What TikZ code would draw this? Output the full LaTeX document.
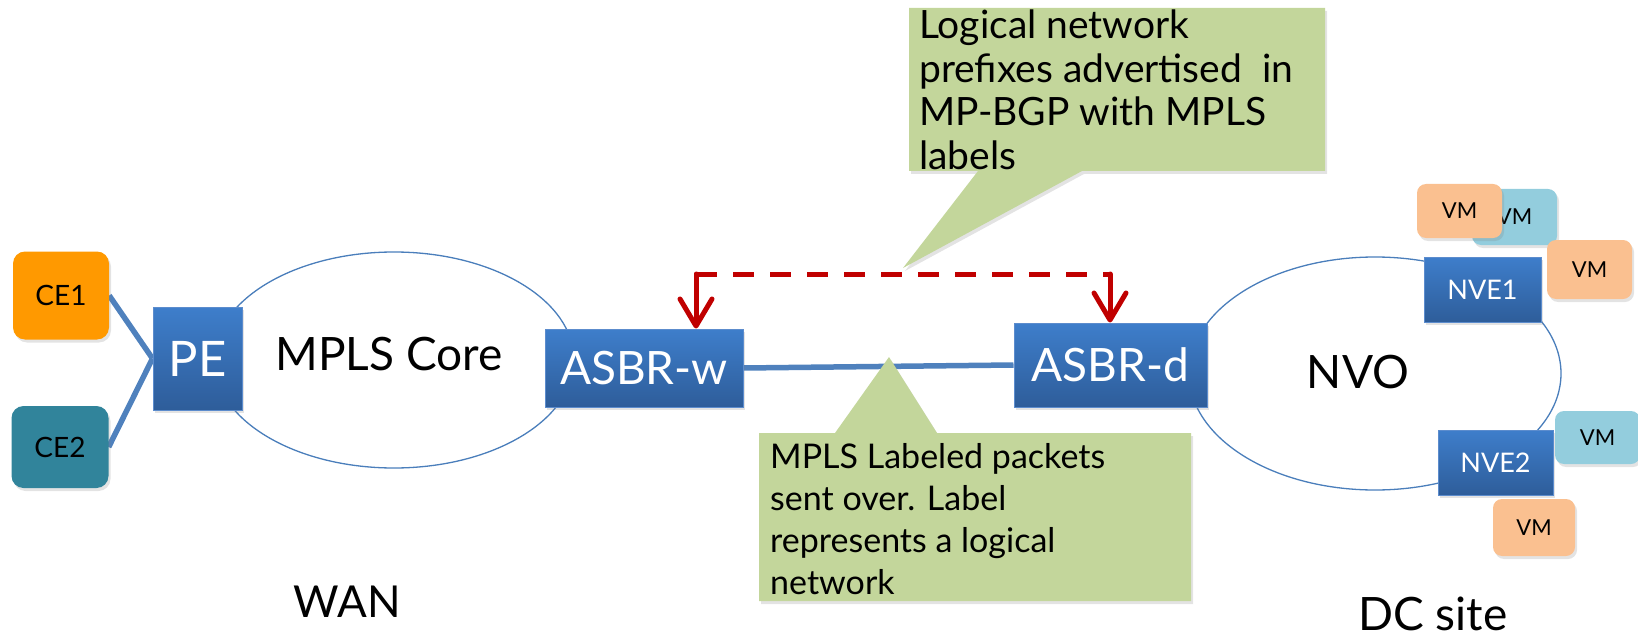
\documentclass[tikz,border=0pt]{standalone}
\usepackage{fontspec}
\setmainfont{Lato}
\usetikzlibrary{arrows.meta,shadows,shapes.geometric}

\definecolor{ceorange}{RGB}{255,153,0}
\definecolor{ceteal}{RGB}{49,132,155}
\definecolor{boxtop}{RGB}{62,126,203}
\definecolor{boxbot}{RGB}{46,93,154}
\definecolor{boxedge}{RGB}{92,140,205}
\definecolor{linkblue}{RGB}{79,129,189}
\definecolor{ringblue}{RGB}{74,126,187}
\definecolor{notegreen}{RGB}{195,214,155}
\definecolor{vmpeach}{RGB}{250,192,144}
\definecolor{vmblue}{RGB}{147,205,221}
\definecolor{signalred}{RGB}{192,0,0}

\pgfdeclarelayer{bg}
\pgfsetlayers{bg,main}

\tikzset{
  fnt/.style={font=\fontsize{#1}{#1}\selectfont},
  softshadow/.style={drop shadow={opacity=0.22,shadow xshift=2pt,shadow yshift=-3pt}},
  router/.style={draw=boxedge, line width=1pt, top color=boxtop, bottom color=boxbot,
    text=white, softshadow, inner sep=0pt},
  site/.style={rounded corners=12pt, text=black, inner sep=0pt, softshadow},
  vm/.style={rounded corners=9pt, inner sep=0pt, softshadow, fnt=22},
  ring/.style={draw=ringblue, line width=1.3pt, ellipse, inner sep=0pt},
  link/.style={draw=linkblue, line width=5.5pt},
  signal/.style={draw=signalred, line width=5pt},
  barb/.style={signal, line cap=round,
    -{Straight Barb[length=27pt,width=32pt,line cap=round,line join=round]}},
  note/.style={fill=notegreen, softshadow},
  notetext/.style={inner sep=0pt, align=left, anchor=north west},
  caption/.style={fnt=46, anchor=base, inner sep=0pt},
}

\begin{document}
\begin{tikzpicture}[x=1pt,y=-1pt]
  \useasboundingbox (0,0) rectangle (1638,639);

  % WAN side
  \node[ring, minimum width=360pt, minimum height=216pt] (core) at (394,360) {};
  \node[caption] (corelbl) at (389,370) {MPLS Core};
  \node[site, fill=ceorange, minimum width=96pt, minimum height=88pt, fnt=28] (ce1) at (61,295.5) {CE1};
  \node[site, fill=ceteal, minimum width=97pt, minimum height=82pt, fnt=28] (ce2) at (60,447) {CE2};
  \node[router, minimum width=89pt, minimum height=103pt, fnt=49] (pe) at (197.5,358.5) {PE};
  \node[router, minimum width=198pt, minimum height=78pt, fnt=46] (asbrw) at (644,368) {ASBR-w};

  % data centre side
  \node[ring, minimum width=372pt, minimum height=233pt] (nvo) at (1375,373.5) {};
  \node[caption] (nvolbl) at (1358,388) {NVO};
  \node[router, minimum width=193pt, minimum height=84pt, fnt=46] (asbrd) at (1110.5,365) {ASBR-d};
  \node[router, minimum width=117pt, minimum height=65pt, fnt=27] (nve1) at (1482.5,289.5) {NVE1};
  \node[router, minimum width=115pt, minimum height=65pt, fnt=27] (nve2) at (1495.5,462.5) {NVE2};

  % virtual machines
  \node[vm, fill=vmblue, minimum width=85pt, minimum height=56pt] (vm2) at (1514.5,217) {VM};
  \node[vm, fill=vmpeach, minimum width=85pt, minimum height=54pt] (vm1) at (1459.5,211) {VM};
  \node[vm, fill=vmpeach, minimum width=85pt, minimum height=59pt] (vm3) at (1589.5,269.5) {VM};
  \node[vm, fill=vmblue, minimum width=85pt, minimum height=53pt] (vm4) at (1597.5,437.5) {VM};
  \node[vm, fill=vmpeach, minimum width=82pt, minimum height=57pt] (vm5) at (1534,527.5) {VM};

  % links behind the boxes
  \begin{pgfonlayer}{bg}
    \draw[link] (ce1.east) -- (pe.west);
    \draw[link] (ce2.east) -- (pe.west);
    \draw[link] (asbrw.east) -- (asbrd.west);
  \end{pgfonlayer}

  % callouts
  \path[note] (909,8) -- (1325,8) -- (1325,171) -- (1082,171) -- (903,268)
    -- (978,171) -- (909,171) -- cycle;
  \node[notetext, font=\fontsize{39}{43.5}\selectfont] (advert) at (919,10)
    {Logical network\\prefixes advertised\ \ in\\MP-BGP with MPLS\\labels};
  \path[note] (759,433) -- (835,433) -- (889,357) -- (937,433) -- (1191,433)
    -- (1191,601) -- (759,601) -- cycle;
  \node[notetext, font=\fontsize{34}{42}\selectfont] (packets) at (770,443)
    {MPLS Labeled packets\\sent over. Label\\represents a logical\\network};

  % label exchange between the border routers
  \coordinate (wturn) at (696,274);
  \coordinate (dturn) at (1110,274);
  \draw[signal, dash pattern=on 21pt off 16pt] (wturn) -- (dturn);
  \draw[barb] (wturn) -- (asbrw.north -| wturn);
  \draw[barb] (dturn) -- (asbrd.north -| dturn);

  % site captions
  \node[caption, fnt=44] (wan) at (347,617) {WAN};
  \node[caption] (dc) at (1433,630) {DC site};
\end{tikzpicture}
\end{document}
